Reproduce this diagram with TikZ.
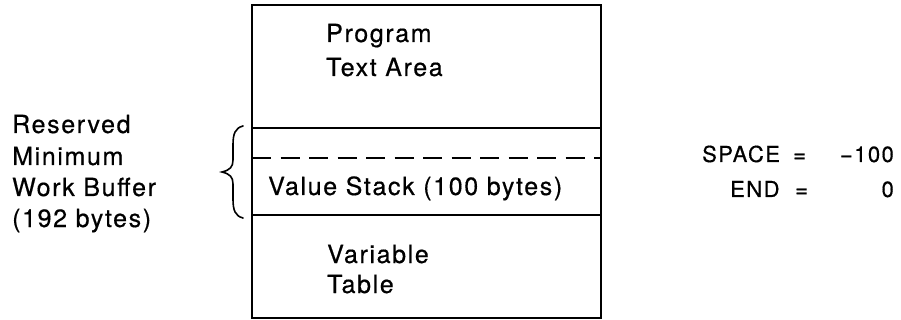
\documentclass[tikz,border=0pt]{standalone}
\usepackage{fontspec}
\setmainfont{TeX Gyre Heros}[LetterSpace=6.5,FakeBold=0.5]
\begin{document}
\begin{tikzpicture}[x=1pt,y=-1pt,
  rule/.style={line width=1.8pt},
  txt/.style={inner sep=0pt,anchor=base west,font=\fontsize{25}{30}\selectfont},
  small/.style={inner sep=0pt,font=\fontsize{22}{26}\selectfont}]
\useasboundingbox (0,0) rectangle (901,320);
% memory map outline
\coordinate (tl) at (252,5);
\coordinate (br) at (601,318);
\draw[rule] (tl) rectangle (br);
% section boundaries
\coordinate (s1l) at (252,128); \coordinate (s1r) at (601,128);
\coordinate (s2l) at (252,215); \coordinate (s2r) at (601,215);
\coordinate (dl) at (252,158);  \coordinate (dr) at (601,158);
\draw[rule] (s1l) -- (s1r);
\draw[rule] (s2l) -- (s2r);
\draw[rule,dash pattern=on 19pt off 9.5pt] (dl) -- (dr);
% section labels
\node[txt] (prog1) at (326,42) {Program};
\node[txt] (prog2) at (326,76) {Text Area};
\node[txt] (vstack) at (268,195) {Value Stack (100 bytes)};
\node[txt] (var1) at (327,263) {Variable};
\node[txt] (var2) at (327,293) {Table};
% reserved buffer label
\node[txt] (res1) at (12,133) {Reserved};
\node[txt] (res2) at (12,165) {Minimum};
\node[txt] (res3) at (12,196) {Work Buffer};
\node[txt] (res4) at (12,227) {(192 bytes)};
% curly brace spanning the work buffer
\draw[line width=1.6pt,line cap=round]
  (243,126) .. controls (235,128) and (233,134) .. (233,145)
  -- (233,160) .. controls (233,167) and (230,170) .. (222,172)
  .. controls (230,174) and (233,177) .. (233,184)
  -- (233,199) .. controls (233,210) and (235,216) .. (243,218);
% parameter settings
\node[small,anchor=base west] (sp) at (702,162) {SPACE};
\node[small,anchor=base west] (speq) at (793,162) {=};
\node[small,anchor=base east] (spv) at (894,162) {−100};
\node[small,anchor=base west] (en) at (730,197) {END};
\node[small,anchor=base west] (eneq) at (795,197) {=};
\node[small,anchor=base east] (env) at (894,197) {0};
\end{tikzpicture}
\end{document}
